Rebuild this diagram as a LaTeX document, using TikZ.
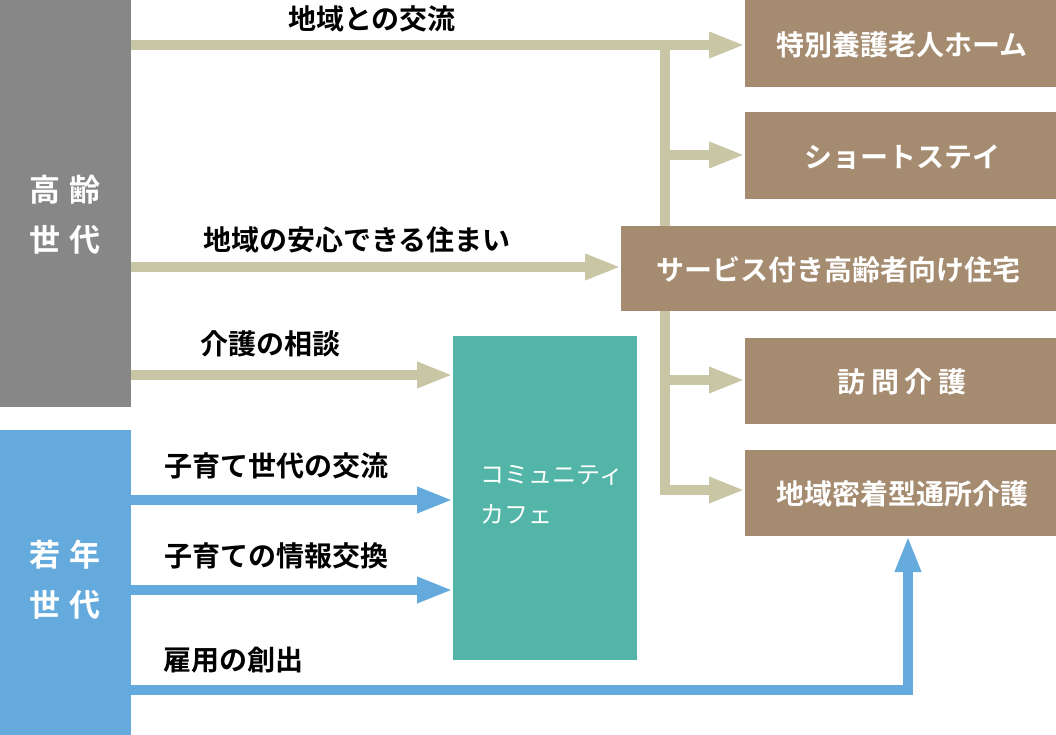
\documentclass[tikz,border=0pt]{standalone}
\usepackage{fontspec}
\setmainfont{Noto Sans CJK JP}[BoldFont={Noto Sans CJK JP Bold}]
\usetikzlibrary{arrows.meta}
\definecolor{gr}{HTML}{878787}
\definecolor{bl}{HTML}{64AADD}
\definecolor{br}{HTML}{A58B70}
\definecolor{te}{HTML}{52B5A8}
\definecolor{be}{HTML}{C9C6A5}
\begin{document}
\begin{tikzpicture}[x=1pt,y=-1pt,
  lab/.style={font=\fontsize{28}{30}\selectfont\bfseries,text=black},
  btxt/.style={font=\fontsize{28}{30}\selectfont\bfseries,text=white},
  ar/.style={line width=10pt,draw=#1,-{Triangle[length=36pt,width=24pt]}},
  ln/.style={line width=10pt,draw=#1}]
\useasboundingbox (0,0) rectangle (1056,735);
\coordinate (oa) at (131,45);
\coordinate (ob) at (131,267);
\coordinate (oc) at (131,375);
\coordinate (ya) at (131,500);
\coordinate (yb) at (131,590);
\coordinate (yc) at (131,690);
\coordinate (t1) at (745,45);
\coordinate (t2) at (745,155);
\coordinate (t3) at (621,267);
\coordinate (t4) at (745,380);
\coordinate (t5) at (745,490);
\coordinate (tc1) at (453,375);
\coordinate (tc2) at (453,500);
\coordinate (tc3) at (453,590);
\coordinate (tt) at (908,536);
\coordinate (v1) at (665,45);
\coordinate (v2) at (665,490);
\coordinate (v3) at (665,155);
\coordinate (v4) at (665,380);
\coordinate (c1) at (908,690);
% beige
\draw[ln=be] (v1) -- (v2);
\draw[ar=be] (oa) -- (t1);
\draw[ar=be] (v3) -- (t2);
\draw[ar=be] (v4) -- (t4);
\draw[ar=be] ([xshift=-5pt]v2) -- (t5);
\draw[ar=be] (ob) -- (t3);
\draw[ar=be] (oc) -- (tc1);
% blue
\draw[ar=bl] (ya) -- (tc2);
\draw[ar=bl] (yb) -- (tc3);
\draw[ar=bl] (yc) -- (c1) -- (tt);
% side boxes
\fill[gr] (0,0) rectangle (131,407);
\fill[bl] (0,430) rectangle (131,735);
\node[text=white,align=center,font=\fontsize{31}{50}\selectfont\bfseries] (old) at (65,215) {高\hspace{10pt}齢\\世\hspace{10pt}代};
\node[text=white,align=center,font=\fontsize{31}{50}\selectfont\bfseries] (young) at (65,580) {若\hspace{10pt}年\\世\hspace{10pt}代};
% boxes
\fill[br] (745,0) rectangle (1056,87);
\node[btxt] (b1) at (902,45) {特別養護老人ホーム};
\fill[br] (745,112) rectangle (1056,199);
\node[btxt] (b2) at (902,157) {ショートステイ};
\fill[br] (621,226) rectangle (1056,311);
\node[btxt] (b3) at (838,270) {サービス付き高齢者向け住宅};
\fill[br] (745,338) rectangle (1056,424);
\node[btxt] (b4) at (902,382) {訪\hspace{6pt}問\hspace{6pt}介\hspace{6pt}護};
\fill[br] (745,450) rectangle (1056,536);
\node[btxt] (b5) at (902,494) {地域密着型通所介護};
\fill[te] (453,336) rectangle (637,660);
\node[text=white,font=\fontsize{24}{40}\selectfont,align=left,anchor=north west] (cafe) at (477,462) {コミュニティ\\カフェ};
% labels
\node[lab] (l1) at (372,19) {地域との交流};
\node[lab] (l2) at (357,240) {地域の安心できる住まい};
\node[lab] (l3) at (270,344) {介護の相談};
\node[lab] (l4) at (276,466) {子育て世代の交流};
\node[lab] (l5) at (276,556) {子育ての情報交換};
\node[lab] (l6) at (233,660) {雇用の創出};
\end{tikzpicture}
\end{document}
